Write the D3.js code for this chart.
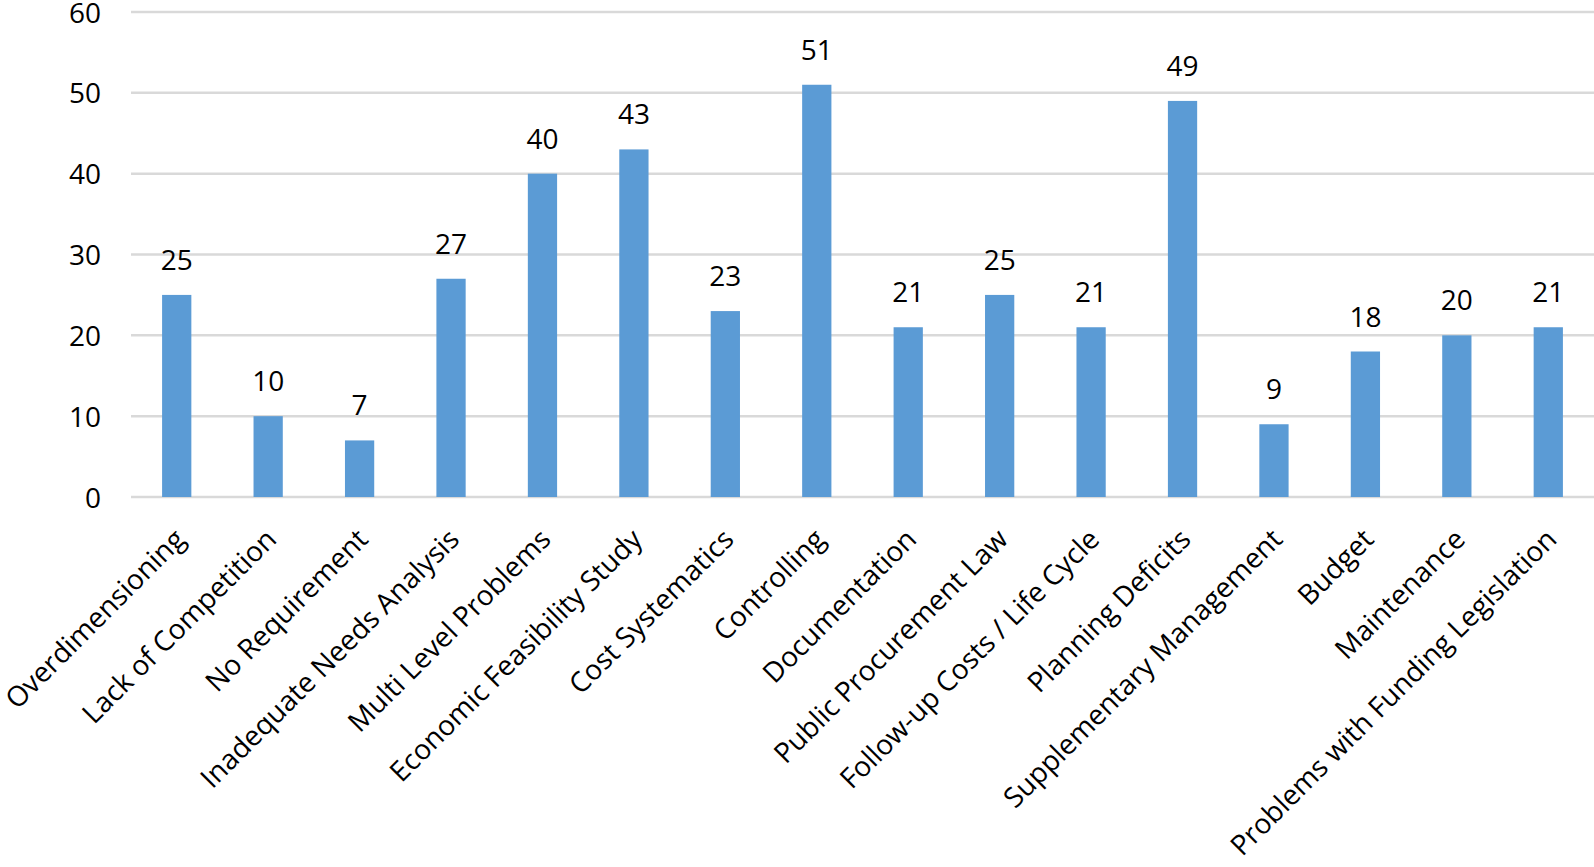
<!DOCTYPE html>
<html>
<head>
<meta charset="utf-8">
<script src="https://cdn.jsdelivr.net/npm/d3@7"></script>
<style>
  body { margin: 0; background: #fff; }
  svg text { font-family: "Open Sans", sans-serif; fill: #000; }
</style>
</head>
<body>
<div id="chart"></div>
<script>
// Categories and counts
var categories = [
    "Overdimensioning", "Lack of Competition", "No Requirement", "Inadequate Needs Analysis",
    "Multi Level Problems", "Economic Feasibility Study", "Cost Systematics", "Controlling",
    "Documentation", "Public Procurement Law", "Follow-up Costs / Life Cycle", "Planning Deficits",
    "Supplementary Management", "Budget", "Maintenance", "Problems with Funding Legislation"
];
var counts = [25, 10, 7, 27, 40, 43, 23, 51, 21, 25, 21, 49, 9, 18, 20, 21];
var yTicks = [0, 10, 20, 30, 40, 50, 60];

var W = 1594, H = 867;
var margin = { top: 12, right: 0, bottom: 370, left: 131 },
    width = W - margin.left - margin.right,
    height = H - margin.top - margin.bottom;

var svg = d3.select("#chart")
    .append("svg")
    .attr("width", W)
    .attr("height", H)
    .append("g")
    .attr("transform", "translate(" + margin.left + "," + margin.top + ")");

var x = d3.scaleBand()
    .domain(categories)
    .range([0, width])
    .paddingInner(0.68)
    .paddingOuter(0.34);

var y = d3.scaleLinear()
    .domain([0, 60])
    .range([height, 0]);

// gridlines
svg.append("g")
    .selectAll("line")
    .data(yTicks)
    .enter()
    .append("line")
    .attr("x1", 0)
    .attr("x2", width)
    .attr("y1", function (d) { return y(d); })
    .attr("y2", function (d) { return y(d); })
    .attr("stroke", "#d9d9d9")
    .attr("stroke-width", 2.5);

// y axis labels
var yAxis = svg.append("g")
    .attr("transform", "translate(-30,0)")
    .call(d3.axisLeft(y).tickValues(yTicks).tickSize(0).tickPadding(0));
yAxis.select(".domain").remove();
yAxis.selectAll("text")
    .style("font-size", "28px")
    .attr("dy", "0.36em");

// bars
svg.selectAll(".bar")
    .data(counts)
    .enter()
    .append("rect")
    .attr("class", "bar")
    .attr("x", function (d, i) { return x(categories[i]); })
    .attr("y", function (d) { return y(d); })
    .attr("width", x.bandwidth())
    .attr("height", function (d) { return height - y(d); })
    .attr("fill", "#5b9bd5");

// value labels
svg.selectAll(".val")
    .data(counts)
    .enter()
    .append("text")
    .attr("class", "val")
    .attr("x", function (d, i) { return x(categories[i]) + x.bandwidth() / 2; })
    .attr("y", function (d) { return y(d) - 25; })
    .attr("text-anchor", "middle")
    .style("font-size", "28px")
    .text(function (d) { return d; });

// x axis labels, rotated
var xAxis = svg.append("g")
    .attr("transform", "translate(0," + height + ")")
    .call(d3.axisBottom(x).tickSize(0).tickPadding(0));
xAxis.select(".domain").remove();
xAxis.selectAll("text")
    .style("font-size", "28px")
    .attr("text-anchor", "end")
    .attr("dy", null)
    .attr("y", 0)
    .attr("transform", "translate(10,44) rotate(-45)");
</script>
</body>
</html>
